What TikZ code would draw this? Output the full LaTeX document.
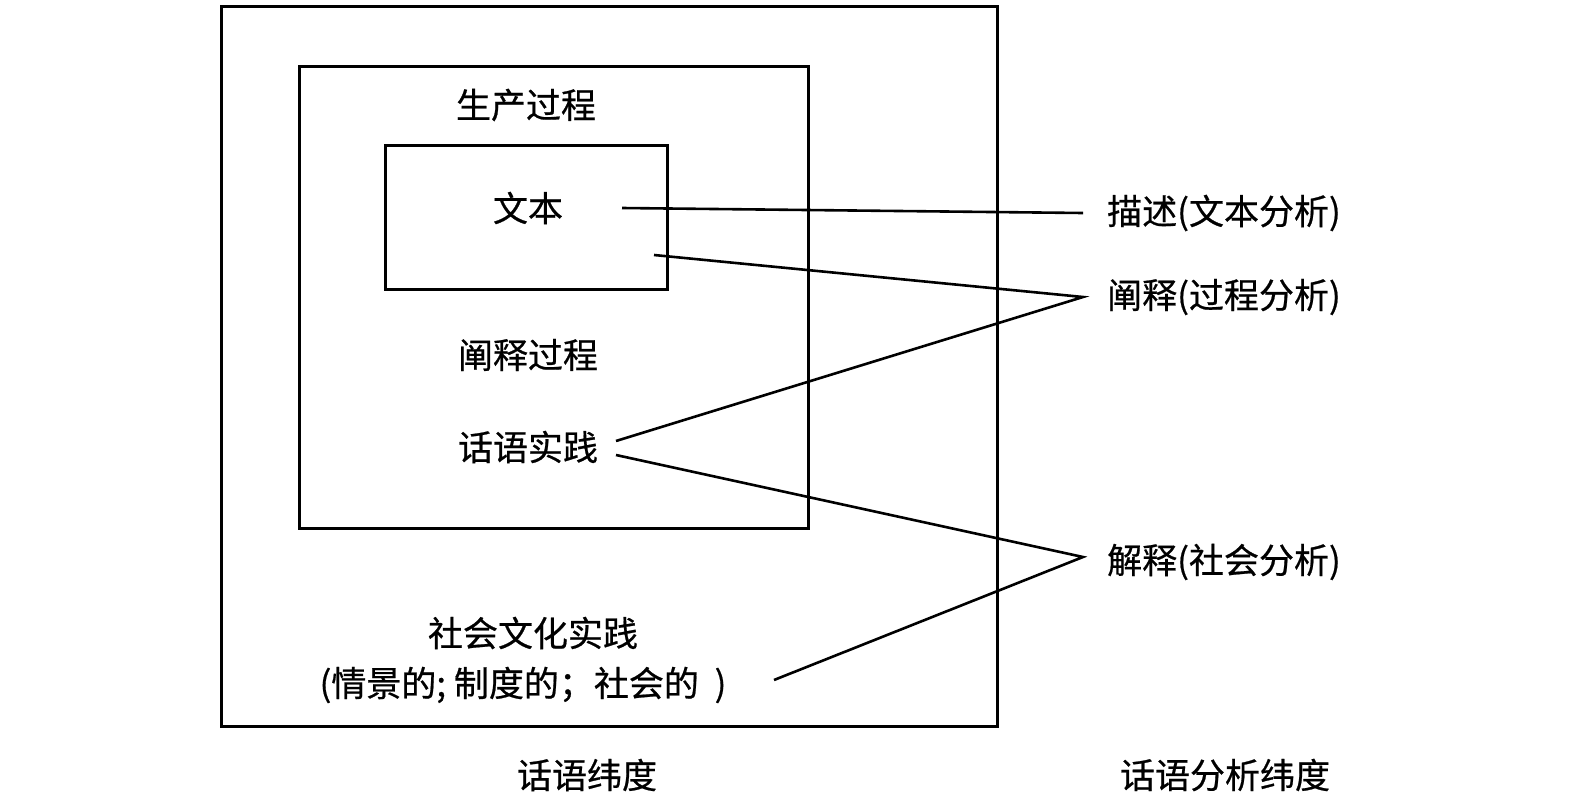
\documentclass[tikz,border=0pt]{standalone}
\usepackage{fontspec}
\setmainfont{Noto Sans CJK SC}[FakeBold=0.6]
\begin{document}
\begin{tikzpicture}[x=1pt,y=-1pt,
  box/.style={draw=black,line width=3pt},
  lbl/.style={inner sep=0pt,font=\fontsize{35}{38}\selectfont},
  conn/.style={draw=black,line width=2.6pt}]
\useasboundingbox (0,0) rectangle (1571,808);
\draw[box] (221,7) rectangle (997,726);
\draw[box] (299,67) rectangle (808,528);
\draw[box] (385,145) rectangle (667,289);
\node[lbl] (scprocess) at (526,105) {生产过程};
\node[lbl] (wenben) at (528,208) {文本};
\node[lbl] (chanshi) at (528,355) {阐释过程};
\node[lbl] (huayu) at (528,447) {话语实践};
\node[lbl] (shehui) at (533,633) {社会文化实践};
\node[lbl] (qingjing) at (523,685) {(情景的; 制度的；社会的 \ )};
\node[lbl] (miaoshu) at (1224,213) {描述(文本分析)};
\node[lbl] (chanshiR) at (1224,297) {阐释(过程分析)};
\node[lbl] (jieshi) at (1224,562) {解释(社会分析)};
\node[lbl] (dimA) at (587,775) {话语纬度};
\node[lbl] (dimB) at (1225,775) {话语分析纬度};
\coordinate (a1) at (622,208);
\coordinate (a2) at (1083,213);
\coordinate (b1) at (654,255);
\coordinate (b2) at (1083,297);
\coordinate (c1) at (616,441);
\coordinate (d1) at (616,455);
\coordinate (d2) at (1083,557);
\coordinate (e1) at (774,680);
\draw[conn] (a1) -- (a2);
\draw[conn] (b1) -- (b2) -- (c1);
\draw[conn] (d1) -- (d2) -- (e1);
\end{tikzpicture}
\end{document}
